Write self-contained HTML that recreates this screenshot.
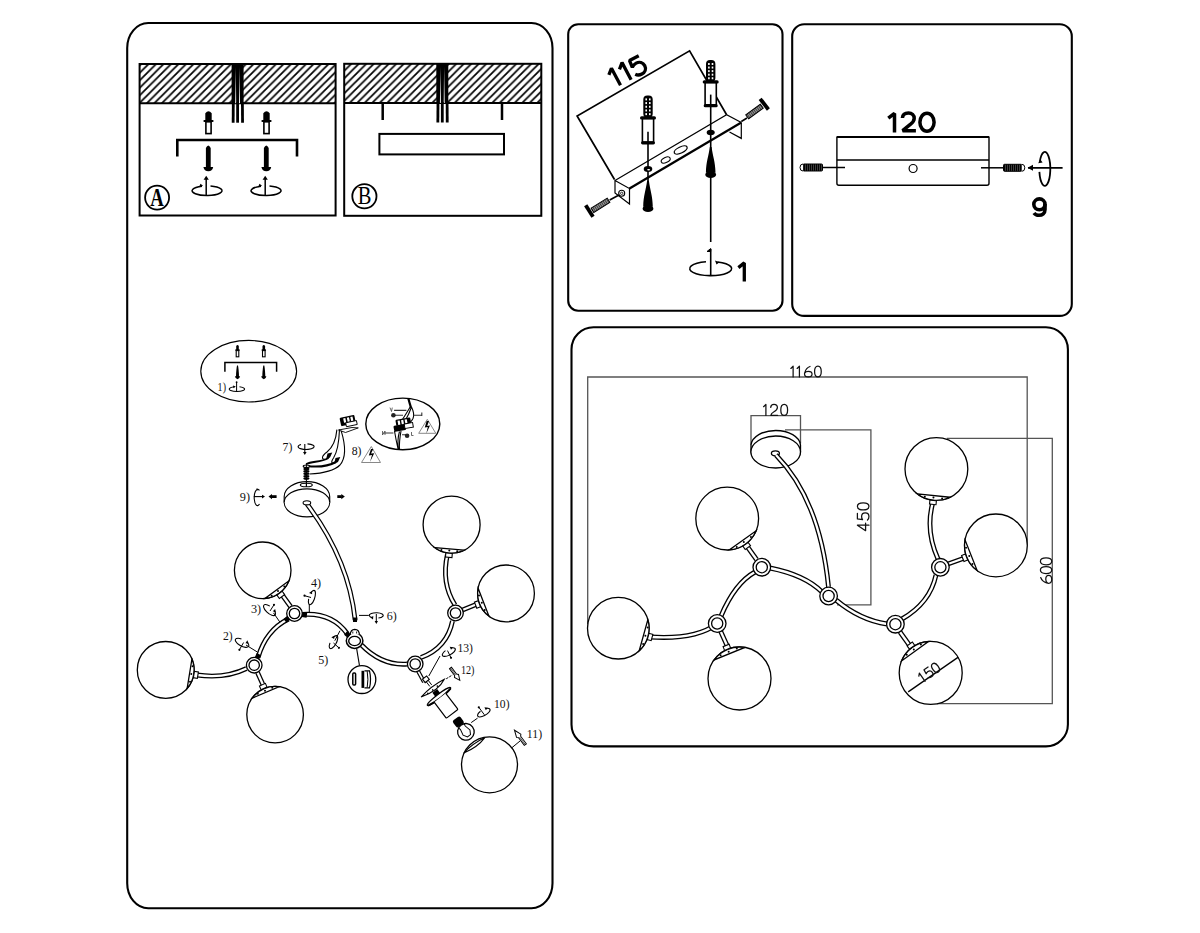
<!DOCTYPE html>
<html><head><meta charset="utf-8">
<style>html,body{margin:0;padding:0;background:#fff;}body{width:1200px;height:933px;overflow:hidden;}svg{display:block;}</style></head><body>
<svg width="1200" height="933" viewBox="0 0 1200 933">
<defs>
<pattern id="hatch" patternUnits="userSpaceOnUse" width="7.5" height="7.5" x="2.6" y="0">
<path d="M-1.5,1.5 L1.5,-1.5 M0,7.5 L7.5,0 M6,9 L9,6" stroke="#000" stroke-width="1.75"/>
</pattern>
<pattern id="thread2" patternUnits="userSpaceOnUse" width="2" height="2">
<rect width="2" height="2" fill="#999"/><rect width="0.9" height="2" fill="#333"/>
</pattern>
<pattern id="thread" patternUnits="userSpaceOnUse" width="2" height="2">
<rect width="2" height="2" fill="#000"/><rect x="1.2" width="0.6" height="2" fill="#666"/>
</pattern>
</defs>
<rect width="1200" height="933" fill="#fff"/>
<g fill="none" stroke="#000" stroke-width="2.1">
<rect x="127.2" y="23" width="425.3" height="885.2" rx="21" ry="25"/>
<rect x="568.2" y="24.2" width="214.3" height="286.5" rx="10" ry="10"/>
<rect x="792.2" y="24.3" width="279.6" height="291.6" rx="12" ry="12"/>
<rect x="571.5" y="327.2" width="496.4" height="419.2" rx="22" ry="22"/>
</g>
<rect x="139.6" y="64" width="196" height="39.2" fill="url(#hatch)"/>
<rect x="139.6" y="64" width="196" height="151.5" fill="none" stroke="#000" stroke-width="2"/>
<line x1="139.6" y1="103.2" x2="335.6" y2="103.2" stroke="#000" stroke-width="2"/>
<rect x="231.6" y="64" width="12" height="39.2" fill="#000"/>
<path d="M235.8,67 L236.2,103.2 L235.2,103.2 Z M239.4,67 L239,103.2 L240,103.2 Z" fill="#fff"/>
<path d="M233.3,102.2 L233.15,122.7" stroke="#000" stroke-width="2.8"/>
<path d="M237.6,102.2 L237.6,122.7" stroke="#000" stroke-width="2.8"/>
<path d="M242.4,102.2 L242.55,122.7" stroke="#000" stroke-width="2.8"/>
<rect x="344.2" y="63.8" width="197.1" height="39.2" fill="url(#hatch)"/>
<rect x="344.2" y="63.8" width="197.1" height="152" fill="none" stroke="#000" stroke-width="2"/>
<line x1="344.2" y1="103" x2="541.3" y2="103" stroke="#000" stroke-width="2"/>
<rect x="436.3" y="63.8" width="12" height="39.2" fill="#000"/>
<path d="M440.5,66.8 L440.9,103 L439.9,103 Z M444.1,66.8 L443.7,103 L444.7,103 Z" fill="#fff"/>
<path d="M438,102 L437.85,122.5" stroke="#000" stroke-width="2.8"/>
<path d="M442.3,102 L442.3,122.5" stroke="#000" stroke-width="2.8"/>
<path d="M447.1,102 L447.25,122.5" stroke="#000" stroke-width="2.8"/>
<path d="M205.3,120.8 L205.3,113.3 Q208.5,109.3 211.7,113.3 L211.7,120.8 Z" fill="#000"/>
<rect x="203.4" y="120.1" width="10.2" height="2" rx="1" fill="#000"/>
<rect x="205.9" y="121.8" width="5.2" height="11.8" fill="#fff" stroke="#000" stroke-width="1.6"/>
<path d="M205.9,167.2 L205.9,147.9 Q208.3,142.9 210.7,147.9 L210.7,167.2 Z" fill="#000"/>
<path d="M203.4,166.9 L213.2,166.9 Q212.3,171.2 208.3,171.2 Q204.3,171.2 203.4,166.9 Z" fill="#000"/>
<path d="M263.3,120.8 L263.3,113.3 Q266.5,109.3 269.7,113.3 L269.7,120.8 Z" fill="#000"/>
<rect x="261.4" y="120.1" width="10.2" height="2" rx="1" fill="#000"/>
<rect x="263.9" y="121.8" width="5.2" height="11.8" fill="#fff" stroke="#000" stroke-width="1.6"/>
<path d="M263.9,167.2 L263.9,147.9 Q266.3,142.9 268.7,147.9 L268.7,167.2 Z" fill="#000"/>
<path d="M261.4,166.9 L271.2,166.9 Q270.3,171.2 266.3,171.2 Q262.3,171.2 261.4,166.9 Z" fill="#000"/>
<path d="M202,186.2 A15,4.8 0 1 0 210.5,186.05" fill="none" stroke="#000" stroke-width="1.5"/>
<path d="M199,187.2 L203,185.7 L200.5,183.8 Z" fill="#000"/>
<line x1="206.2" y1="195.6" x2="206.2" y2="178.7" stroke="#000" stroke-width="1.5"/>
<path d="M203.6,179.7 L206.2,175.7 L208.8,179.7 Z" fill="#000"/>
<path d="M261,186.2 A15,4.8 0 1 0 269.5,186.05" fill="none" stroke="#000" stroke-width="1.5"/>
<path d="M258,187.2 L262,185.7 L259.5,183.8 Z" fill="#000"/>
<line x1="265.2" y1="195.6" x2="265.2" y2="178.7" stroke="#000" stroke-width="1.5"/>
<path d="M262.6,179.7 L265.2,175.7 L267.8,179.7 Z" fill="#000"/>
<path d="M177.3,156.5 V140 H297 V156.5" fill="none" stroke="#000" stroke-width="2.6"/>
<path d="M382.7,103 V120 M502,103 V120" stroke="#000" stroke-width="2.5"/>
<rect x="379.4" y="133.9" width="124.6" height="20.5" fill="none" stroke="#000" stroke-width="2"/>
<circle cx="157.1" cy="197.6" r="12.0" fill="none" stroke="#000" stroke-width="1.8"/>
<text x="0" y="0" font-family="&quot;Liberation Serif&quot;, serif" font-size="26" font-weight="bold" text-anchor="middle" fill="#000" transform="translate(157.1,205.9) scale(0.72,1)">A</text>
<circle cx="364.4" cy="196.3" r="12.1" fill="none" stroke="#000" stroke-width="1.8"/>
<text x="0" y="0" font-family="&quot;Liberation Serif&quot;, serif" font-size="24.5" text-anchor="middle" fill="#000" transform="translate(364.6,204.4) scale(0.84,1)">B</text>
<g stroke="#000" fill="none">
<path d="M614.5,179.5 L577.1,116 L689.6,50.8 L726.6,114.8" stroke-width="1.7"/>
<path d="M615,180.5 L726.6,114.8 L741.3,122.5" stroke-width="1.2"/>
<path d="M629.5,188.5 L741.3,122.5" stroke-width="2.2"/>
<path d="M615,180.5 L629.5,188.5 L629.5,204 L615,193 Z" stroke-width="1.2"/>
<path d="M741.3,122.5 L741.3,138.4 L729.5,132" stroke-width="1.2"/>
<ellipse cx="665.7" cy="160" rx="4.8" ry="2.6" transform="rotate(-25 665.7 160)" stroke-width="1.1"/>
<ellipse cx="680.7" cy="150" rx="7" ry="3" transform="rotate(-25 680.7 150)" stroke-width="1.3"/>
</g>
<rect x="643.3" y="95.4" width="9.4" height="22.4" rx="4" fill="#000"/>
<rect x="645.4" y="98.4" width="1.6" height="2" fill="#fff"/><rect x="649" y="98.4" width="1.6" height="2" fill="#fff"/>
<rect x="645.4" y="102.08" width="1.6" height="2" fill="#fff"/><rect x="649" y="102.08" width="1.6" height="2" fill="#fff"/>
<rect x="645.4" y="105.76" width="1.6" height="2" fill="#fff"/><rect x="649" y="105.76" width="1.6" height="2" fill="#fff"/>
<rect x="645.4" y="109.44" width="1.6" height="2" fill="#fff"/><rect x="649" y="109.44" width="1.6" height="2" fill="#fff"/>
<rect x="645.4" y="113.12" width="1.6" height="2" fill="#fff"/><rect x="649" y="113.12" width="1.6" height="2" fill="#fff"/>
<rect x="640" y="116.3" width="16" height="3.2" rx="1.6" fill="#000"/>
<rect x="642.4" y="118.8" width="11.2" height="23.4" fill="#fff" stroke="#000" stroke-width="1.6"/>
<rect x="641" y="141.2" width="14" height="3.2" rx="1.6" fill="#000"/>
<line x1="648" y1="131.7" x2="648" y2="143.7" stroke="#000" stroke-width="1.6"/>
<line x1="648" y1="143.7" x2="648" y2="182" stroke="#000" stroke-width="1.6"/>
<ellipse cx="648" cy="169" rx="4.3" ry="3" fill="#000"/><ellipse cx="648.6" cy="169.8" rx="1.5" ry="0.8" fill="#fff"/>
<path d="M647.1,180.7 L648.9,180.7 C650,189.7 652.6,195.7 652.8,206.7 L643.2,206.7 C643.4,195.7 646,189.7 647.1,180.7 Z" fill="#000"/>
<ellipse cx="648" cy="208.7" rx="5.4" ry="3.4" fill="#000"/>
<rect x="706" y="60" width="9.4" height="21.8" rx="4" fill="#000"/>
<rect x="708.1" y="63" width="1.6" height="2" fill="#fff"/><rect x="711.7" y="63" width="1.6" height="2" fill="#fff"/>
<rect x="708.1" y="66.56" width="1.6" height="2" fill="#fff"/><rect x="711.7" y="66.56" width="1.6" height="2" fill="#fff"/>
<rect x="708.1" y="70.12" width="1.6" height="2" fill="#fff"/><rect x="711.7" y="70.12" width="1.6" height="2" fill="#fff"/>
<rect x="708.1" y="73.68" width="1.6" height="2" fill="#fff"/><rect x="711.7" y="73.68" width="1.6" height="2" fill="#fff"/>
<rect x="708.1" y="77.24" width="1.6" height="2" fill="#fff"/><rect x="711.7" y="77.24" width="1.6" height="2" fill="#fff"/>
<rect x="702.7" y="80.3" width="16" height="3.2" rx="1.6" fill="#000"/>
<rect x="705.1" y="82.8" width="11.2" height="22.3" fill="#fff" stroke="#000" stroke-width="1.6"/>
<rect x="703.7" y="104.1" width="14" height="3.2" rx="1.6" fill="#000"/>
<line x1="710.7" y1="94.6" x2="710.7" y2="106.6" stroke="#000" stroke-width="1.6"/>
<line x1="710.7" y1="106.6" x2="710.7" y2="242" stroke="#000" stroke-width="1.6"/>
<ellipse cx="710.7" cy="132.5" rx="4" ry="2.8" fill="#000"/>
<path d="M709.8,147 L711.6,147 C712.7,156 715.3,161.7 715.5,172.7 L705.9,172.7 C706.1,161.7 708.7,156 709.8,147 Z" fill="#000"/>
<ellipse cx="710.7" cy="174.7" rx="5.4" ry="3.4" fill="#000"/>
<line x1="741.3" y1="121.5" x2="747" y2="118" stroke="#000" stroke-width="1.6"/>
<g transform="translate(754.5,111.5) rotate(-36)"><rect x="-9" y="-2.5" width="18" height="5" fill="url(#thread2)" stroke="#000" stroke-width="1"/></g>
<line x1="760.2" y1="98.9" x2="768.4" y2="109.5" stroke="#000" stroke-width="3.8"/>
<line x1="609.7" y1="200" x2="619" y2="195" stroke="#000" stroke-width="1.6"/>
<g transform="translate(600.5,205.3) rotate(-32)"><rect x="-9.5" y="-2.5" width="19" height="5" fill="url(#thread2)" stroke="#000" stroke-width="1"/></g>
<line x1="585.7" y1="205.3" x2="593" y2="216.7" stroke="#000" stroke-width="3.8"/>
<circle cx="621.7" cy="193.3" r="3" fill="#fff" stroke="#000" stroke-width="1.1"/><circle cx="621.7" cy="193.3" r="1.2" fill="none" stroke="#000" stroke-width="0.8"/>
<path d="M706,261.8 A21,7 0 1 0 717.5,262" fill="none" stroke="#000" stroke-width="1.6"/>
<path d="M715,260.5 L719.5,262.3 L716.5,264.5 Z" fill="#000"/>
<line x1="710.7" y1="249" x2="710.7" y2="275.5" stroke="#000" stroke-width="1.6"/>
<path d="M710.7,248.5 L707,251.5 L710.7,251.5 Z" fill="#000" stroke="#000" stroke-width="1"/>
<g transform="translate(620.5,85.3) rotate(-28)" fill="none" stroke="#000" stroke-width="3.3" stroke-linejoin="bevel"><path d="M-5.4,-14.6 L0,-19.3 V0"/><path d="M6.6,-14.6 L12,-19.3 V0"/><path d="M30,-17.6 H19.6 L18.8,-10.2 C20.5,-11.6 22.5,-12.2 24.2,-12.2 C28,-12.2 30.6,-9.5 30.6,-6 C30.6,-2.2 27.8,0.1 24.2,0.1 C21.8,0.1 19.6,-0.9 18.2,-2.8"/></g>
<path d="M738.4,267.6 L744.3,262.9 V281.6" fill="none" stroke="#000" stroke-width="3.3" stroke-linejoin="bevel"/>
<g fill="none" stroke="#000" stroke-width="3.5" stroke-linejoin="bevel"><path d="M888.3,118.2 L894.5,113.4 V132.4"/><path d="M902.4,118 C902.6,114.6 905.2,112.9 908.5,112.9 C912,112.9 914.2,115.2 914.2,118.2 C914.2,120.6 912.8,122.4 910.6,124.2 L902.6,130.7 H915.9"/><ellipse cx="927" cy="122.2" rx="7.1" ry="9"/></g>
<g stroke="#000" fill="none">
<path d="M836.9,137.1 H989" stroke-width="2"/>
<path d="M836.9,136.5 V183.3 Q836.9,185.3 838.9,185.3 H987 Q989,185.3 989,183.3 V136.5" stroke-width="1.4"/>
<path d="M836.9,160 H989" stroke-width="1.4"/>
<circle cx="913.1" cy="168.5" r="4" stroke-width="1.2"/>
<path d="M822.5,167.5 H845" stroke-width="1.5"/>
<path d="M981,167.8 H1003.5" stroke-width="1.5"/>
<path d="M1028,167.8 H1062.6" stroke-width="1.8"/>
</g>
<rect x="803" y="164" width="19.5" height="7" rx="1" fill="url(#thread)" stroke="#000" stroke-width="1"/>
<path d="M803,164 A3,3.5 0 0 0 803,171" fill="#fff" stroke="#000" stroke-width="1"/>
<rect x="1003.5" y="164.3" width="18.3" height="7" rx="1" fill="url(#thread)" stroke="#000" stroke-width="1"/>
<path d="M1021.8,164.3 A3,3.5 0 0 1 1021.8,171.3" fill="#fff" stroke="#000" stroke-width="1"/>
<path d="M1027.6,167.8 L1033,164.8 L1033,170.8 Z" fill="#000"/>
<path d="M1039.8,161.8 A5.5,17 0 1 1 1039.4,171.9" fill="none" stroke="#000" stroke-width="1.8"/>
<path d="M1038.2,163.2 L1040.2,159.2 L1042.6,162.6 Z" fill="#000"/>
<g fill="none" stroke="#000" stroke-width="3.6"><ellipse cx="1039.4" cy="204.3" rx="5.6" ry="5.4"/><path d="M1045,204 V209.5 C1045,213.5 1042.3,215.3 1039,215.3 C1036.8,215.3 1035,214.5 1034,213"/></g>
<g stroke="#555" fill="none" stroke-width="1.3">
<path d="M587.7,624 V377 H1027.2 V545"/>
<path d="M751,445 V415.6 H800.5 V443.6"/>
<path d="M785,429.8 H870.9 V604.8 H837"/>
<path d="M946.8,438.3 H1052.3 V703.6 H937"/>
</g>
<g transform="translate(0,366.2) rotate(0) scale(0.98)" fill="none" stroke="#111" stroke-width="1.27" stroke-linecap="round" stroke-linejoin="round"><path d="M-2.3,2.3 L0,0 V11" transform="translate(809.31,0)"/><path d="M-2.3,2.3 L0,0 V11" transform="translate(815.73,0)"/><path d="M5.6,0.3 Q1.6,1.8 0.5,5.9 Q0,7 0,8 Q0,11 3.85,11 Q7.7,11 7.7,8 Q7.7,5.2 3.85,5.2 Q1.2,5.2 0.3,7" transform="translate(820.93,0)"/><path d="M3.4,0 Q6.8,0 6.8,5.5 Q6.8,11 3.4,11 Q0,11 0,5.5 Q0,0 3.4,0 Z" transform="translate(831.21,0)"/></g>
<g transform="translate(0,404.4) rotate(0) scale(1)" fill="none" stroke="#111" stroke-width="1.25" stroke-linecap="round" stroke-linejoin="round"><path d="M-2.3,2.3 L0,0 V11" transform="translate(765.9,0)"/><path d="M0.3,3 Q0.5,0 3.6,0 Q7,0 7,3.2 Q7,5.6 3.6,7.4 Q0.6,9 0.4,11 H7.2" transform="translate(770.4,0)"/><path d="M3.4,0 Q6.8,0 6.8,5.5 Q6.8,11 3.4,11 Q0,11 0,5.5 Q0,0 3.4,0 Z" transform="translate(780.8,0)"/></g>
<g transform="translate(857.4,530.7) rotate(-90) scale(1.05)" fill="none" stroke="#111" stroke-width="1.2" stroke-linecap="round" stroke-linejoin="round"><path d="M5.2,11 V0 L0,7.8 H7.2" transform="translate(0,0)"/><path d="M6.6,0 H1.2 L0.6,4.9 Q1.8,4 3.6,4 Q7.1,4 7.1,7.5 Q7.1,11 3.6,11 Q1.3,11 0.2,9.6" transform="translate(9.95,0)"/><path d="M3.4,0 Q6.8,0 6.8,5.5 Q6.8,11 3.4,11 Q0,11 0,5.5 Q0,0 3.4,0 Z" transform="translate(19.8,0)"/></g>
<g transform="translate(1040.4,583.3) rotate(-90) scale(1.03)" fill="none" stroke="#111" stroke-width="1.22" stroke-linecap="round" stroke-linejoin="round"><path d="M5.6,0.3 Q1.6,1.8 0.5,5.9 Q0,7 0,8 Q0,11 3.85,11 Q7.7,11 7.7,8 Q7.7,5.2 3.85,5.2 Q1.2,5.2 0.3,7" transform="translate(0,0)"/><path d="M3.4,0 Q6.8,0 6.8,5.5 Q6.8,11 3.4,11 Q0,11 0,5.5 Q0,0 3.4,0 Z" transform="translate(9.44,0)"/><path d="M3.4,0 Q6.8,0 6.8,5.5 Q6.8,11 3.4,11 Q0,11 0,5.5 Q0,0 3.4,0 Z" transform="translate(17.91,0)"/></g>
<g stroke="#000" stroke-width="1.3" fill="#fff">
<path d="M751,445 A24.8,15.5 0 0 1 800.5,445 V452 A24.8,16 0 0 1 751,452 Z"/>
<ellipse cx="775.7" cy="452" rx="24.8" ry="16"/>
<ellipse cx="775.4" cy="453.3" rx="4" ry="2.5"/>
</g>
<path d="M776,455 Q820,500 828.5,587" fill="none" stroke="#000" stroke-width="4.9" stroke-linecap="butt"/>
<path d="M776,455 Q820,500 828.5,587" fill="none" stroke="#fff" stroke-width="2.3" stroke-linecap="butt"/>
<path d="M717,624 Q695,640 650,637" fill="none" stroke="#000" stroke-width="4.9" stroke-linecap="butt"/>
<path d="M717,624 Q695,640 650,637" fill="none" stroke="#fff" stroke-width="2.3" stroke-linecap="butt"/>
<path d="M721,616 Q735,583 755,572" fill="none" stroke="#000" stroke-width="4.9" stroke-linecap="butt"/>
<path d="M721,616 Q735,583 755,572" fill="none" stroke="#fff" stroke-width="2.3" stroke-linecap="butt"/>
<path d="M770,568 Q805,575 822,592" fill="none" stroke="#000" stroke-width="4.9" stroke-linecap="butt"/>
<path d="M770,568 Q805,575 822,592" fill="none" stroke="#fff" stroke-width="2.3" stroke-linecap="butt"/>
<path d="M836,600 Q860,620 887,624" fill="none" stroke="#000" stroke-width="4.9" stroke-linecap="butt"/>
<path d="M836,600 Q860,620 887,624" fill="none" stroke="#fff" stroke-width="2.3" stroke-linecap="butt"/>
<path d="M902,619 Q930,603 936,575" fill="none" stroke="#000" stroke-width="4.9" stroke-linecap="butt"/>
<path d="M902,619 Q930,603 936,575" fill="none" stroke="#fff" stroke-width="2.3" stroke-linecap="butt"/>
<path d="M946.5,564.5 L966,557.5" fill="none" stroke="#000" stroke-width="4.9" stroke-linecap="butt"/>
<path d="M946.5,564.5 L966,557.5" fill="none" stroke="#fff" stroke-width="2.3" stroke-linecap="butt"/>
<path d="M938,559 Q925,530 933,502" fill="none" stroke="#000" stroke-width="4.9" stroke-linecap="butt"/>
<path d="M938,559 Q925,530 933,502" fill="none" stroke="#fff" stroke-width="2.3" stroke-linecap="butt"/>
<path d="M756.5,559.5 L746.5,545.5" fill="none" stroke="#000" stroke-width="4.9" stroke-linecap="butt"/>
<path d="M756.5,559.5 L746.5,545.5" fill="none" stroke="#fff" stroke-width="2.3" stroke-linecap="butt"/>
<path d="M720.5,631 L727.5,646.5" fill="none" stroke="#000" stroke-width="4.9" stroke-linecap="butt"/>
<path d="M720.5,631 L727.5,646.5" fill="none" stroke="#fff" stroke-width="2.3" stroke-linecap="butt"/>
<path d="M900,632 L910,646" fill="none" stroke="#000" stroke-width="4.9" stroke-linecap="butt"/>
<path d="M900,632 L910,646" fill="none" stroke="#fff" stroke-width="2.3" stroke-linecap="butt"/>
<circle cx="727.2" cy="518.6" r="31.4" fill="#fff" stroke="#000" stroke-width="1.3"/>
<path d="M729.2,549.94 A31.4,31.4 0 0 0 756.15,530.75 Z" fill="#fff" stroke="#000" stroke-width="1.3"/>
<circle cx="750.92" cy="536.91" r="1.0" fill="#000"/>
<circle cx="743.83" cy="541.95" r="1.0" fill="#000"/>
<circle cx="736.73" cy="547" r="1.0" fill="#000"/>
<rect x="-2" y="-3.25" width="4" height="6.5" fill="#fff" stroke="#000" stroke-width="1.1" transform="translate(746.69,545.97) rotate(54.55)"/>
<circle cx="618.3" cy="628.2" r="30.8" fill="#fff" stroke="#000" stroke-width="1.3"/>
<path d="M639.19,650.84 A30.8,30.8 0 0 0 647.87,619.57 Z" fill="#fff" stroke="#000" stroke-width="1.3"/>
<circle cx="647.68" cy="627.49" r="1.0" fill="#000"/>
<circle cx="645.4" cy="635.72" r="1.0" fill="#000"/>
<circle cx="643.11" cy="643.95" r="1.0" fill="#000"/>
<rect x="-2" y="-3.25" width="4" height="6.5" fill="#fff" stroke="#000" stroke-width="1.1" transform="translate(650.1,637.03) rotate(15.51)"/>
<circle cx="739.5" cy="678.5" r="31.5" fill="#fff" stroke="#000" stroke-width="1.3"/>
<path d="M744.82,647.45 A31.5,31.5 0 0 0 714.06,659.92 Z" fill="#fff" stroke="#000" stroke-width="1.3"/>
<circle cx="720.6" cy="655.13" r="1.0" fill="#000"/>
<circle cx="728.69" cy="651.85" r="1.0" fill="#000"/>
<circle cx="736.79" cy="648.57" r="1.0" fill="#000"/>
<rect x="-2" y="-3.25" width="4" height="6.5" fill="#fff" stroke="#000" stroke-width="1.1" transform="translate(726.84,647.27) rotate(-112.07)"/>
<circle cx="936.4" cy="469" r="31.4" fill="#fff" stroke="#000" stroke-width="1.3"/>
<path d="M917.21,493.85 A31.4,31.4 0 0 0 950.12,497.24 Z" fill="#fff" stroke="#000" stroke-width="1.3"/>
<circle cx="942.12" cy="498.41" r="1.0" fill="#000"/>
<circle cx="933.46" cy="497.52" r="1.0" fill="#000"/>
<circle cx="924.8" cy="496.63" r="1.0" fill="#000"/>
<rect x="-2" y="-3.25" width="4" height="6.5" fill="#fff" stroke="#000" stroke-width="1.1" transform="translate(932.96,502.42) rotate(95.88)"/>
<circle cx="995.9" cy="545.4" r="31.4" fill="#fff" stroke="#000" stroke-width="1.3"/>
<path d="M965,539.81 A31.4,31.4 0 0 0 977.14,570.58 Z" fill="#fff" stroke="#000" stroke-width="1.3"/>
<circle cx="972.43" cy="564.02" r="1.0" fill="#000"/>
<circle cx="969.23" cy="555.92" r="1.0" fill="#000"/>
<circle cx="966.04" cy="547.82" r="1.0" fill="#000"/>
<rect x="-2" y="-3.25" width="4" height="6.5" fill="#fff" stroke="#000" stroke-width="1.1" transform="translate(964.65,557.73) rotate(158.47)"/>
<circle cx="930.7" cy="672.9" r="31.5" fill="#fff" stroke="#000" stroke-width="1.3"/>
<path d="M928.42,641.48 A31.5,31.5 0 0 0 901.55,660.96 Z" fill="#fff" stroke="#000" stroke-width="1.3"/>
<circle cx="906.75" cy="654.74" r="1.0" fill="#000"/>
<circle cx="913.82" cy="649.61" r="1.0" fill="#000"/>
<circle cx="920.89" cy="644.49" r="1.0" fill="#000"/>
<rect x="-2" y="-3.25" width="4" height="6.5" fill="#fff" stroke="#000" stroke-width="1.1" transform="translate(910.92,645.61) rotate(-125.94)"/>
<circle cx="761.8" cy="567.2" r="8.8" fill="#fff" stroke="#000" stroke-width="1.3"/>
<circle cx="761.8" cy="567.2" r="5.6" fill="#fff" stroke="#000" stroke-width="1.3"/>
<circle cx="717.2" cy="623.5" r="8.8" fill="#fff" stroke="#000" stroke-width="1.3"/>
<circle cx="717.2" cy="623.5" r="5.6" fill="#fff" stroke="#000" stroke-width="1.3"/>
<circle cx="828.6" cy="596" r="8.8" fill="#fff" stroke="#000" stroke-width="1.3"/>
<circle cx="828.6" cy="596" r="5.6" fill="#fff" stroke="#000" stroke-width="1.3"/>
<circle cx="895.4" cy="624.2" r="8.8" fill="#fff" stroke="#000" stroke-width="1.3"/>
<circle cx="895.4" cy="624.2" r="5.6" fill="#fff" stroke="#000" stroke-width="1.3"/>
<circle cx="940.4" cy="567.3" r="8.8" fill="#fff" stroke="#000" stroke-width="1.3"/>
<circle cx="940.4" cy="567.3" r="5.6" fill="#fff" stroke="#000" stroke-width="1.3"/>
<line x1="908.2" y1="691.9" x2="958.3" y2="657.1" stroke="#000" stroke-width="1.3"/>
<g transform="translate(919.36,673.11) rotate(-35) scale(0.91)" fill="none" stroke="#111" stroke-width="1.38" stroke-linecap="round" stroke-linejoin="round"><path d="M-2.3,2.3 L0,0 V11" transform="translate(0,0)"/><path d="M6.6,0 H1.2 L0.6,4.9 Q1.8,4 3.6,4 Q7.1,4 7.1,7.5 Q7.1,11 3.6,11 Q1.3,11 0.2,9.6" transform="translate(5.06,0)"/><path d="M3.4,0 Q6.8,0 6.8,5.5 Q6.8,11 3.4,11 Q0,11 0,5.5 Q0,0 3.4,0 Z" transform="translate(14.41,0)"/></g>
<ellipse cx="248.7" cy="371.2" rx="47.9" ry="30.8" fill="none" stroke="#000" stroke-width="1.15"/>
<path d="M224.9,371.8 V362.5 H276.6 V371.8" fill="none" stroke="#000" stroke-width="1.5"/>
<path d="M236.2,350 V346 Q237.5,343.8 238.8,346 V350 Z" fill="#000"/>
<rect x="235.2" y="349.3" width="4.6" height="1.6" rx="0.8" fill="#000"/>
<rect x="236.2" y="350.6" width="2.6" height="6.2" fill="#fff" stroke="#000" stroke-width="1.1"/>
<path d="M237,365.5 L238,365.5 C238.5,368 239,373 239,377 L236,377 C236,373 236.5,368 237,365.5 Z" fill="#000"/>
<path d="M234.9,376.3 H240.1 Q239.5,379.2 237.5,379.2 Q235.5,379.2 234.9,376.3 Z" fill="#000"/>
<path d="M262.5,350 V346 Q263.8,343.8 265.1,346 V350 Z" fill="#000"/>
<rect x="261.5" y="349.3" width="4.6" height="1.6" rx="0.8" fill="#000"/>
<rect x="262.5" y="350.6" width="2.6" height="6.2" fill="#fff" stroke="#000" stroke-width="1.1"/>
<path d="M263.3,365.5 L264.3,365.5 C264.8,368 265.3,373 265.3,377 L262.3,377 C262.3,373 262.8,368 263.3,365.5 Z" fill="#000"/>
<path d="M261.2,376.3 H266.4 Q265.8,379.2 263.8,379.2 Q261.8,379.2 261.2,376.3 Z" fill="#000"/>
<text x="217.6" y="390.8" font-family="&quot;Liberation Serif&quot;, serif" font-size="12.5" fill="#111" textLength="8.4" lengthAdjust="spacingAndGlyphs">1)</text>
<path d="M234.3,386.7 A7.7,2.5 0 1 0 239.5,386.7" fill="none" stroke="#000" stroke-width="1.05"/>
<path d="M233,385.5 L235.8,386.6 L233.5,388.3 Z" fill="#000"/>
<line x1="236.6" y1="382.5" x2="236.6" y2="391.5" stroke="#000" stroke-width="1"/><circle cx="236.6" cy="382.2" r="0.9" fill="#000"/>
<ellipse cx="402.8" cy="423.9" rx="37" ry="25.8" fill="none" stroke="#000" stroke-width="1.4"/>
<path d="M408.3,398.3 Q409.5,403 411,407.7" fill="none" stroke="#000" stroke-width="2.2"/>
<path d="M410.5,406.5 Q406,414 401.8,420.5 M411.3,407.5 Q409,414 405.3,420.5 M411.5,407 Q415,414 413,418.5 Q411.5,421.5 409.5,423" fill="none" stroke="#000" stroke-width="1.1"/>
<path d="M394.1,410.4 H406.4 M394,415.2 H403 M414,415.2 H421.5 M421.8,412.5 V416" stroke="#333" stroke-width="1.1"/>
<circle cx="393.4" cy="415.2" r="2.3" fill="#222"/>
<path d="M390,407.6 L391.5,411.5 L392.3,407.6" fill="none" stroke="#444" stroke-width="0.8"/>
<path d="M383.5,433 H393.4 M402,434.8 H407" stroke="#333" stroke-width="1.1"/>
<path d="M382.5,431 V435 L385,431 V435" fill="none" stroke="#444" stroke-width="0.8"/>
<circle cx="407.1" cy="435.7" r="2.3" fill="#222"/>
<path d="M411.5,432 V435.5 H413.5" fill="none" stroke="#444" stroke-width="0.8"/>
<g transform="translate(392.4,420.5) rotate(-10)"><rect x="3" y="0" width="15" height="6" rx="1" fill="#000"/><rect x="5" y="1.2" width="2.2" height="4.5" fill="#fff"/><rect x="8.6" y="1.2" width="2.2" height="4.5" fill="#fff"/><rect x="12.2" y="1.2" width="2.2" height="4.5" fill="#fff"/><rect x="0" y="5.5" width="12" height="6" rx="1" fill="#000"/><rect x="11" y="5.5" width="8.5" height="4.6" fill="#fff" stroke="#000" stroke-width="1"/></g>
<path d="M394.5,431 Q396,440 398.2,449.7 M399.5,431.5 Q397,440 398.5,449.7 M401,431 Q399,442 399.5,449.7" fill="none" stroke="#000" stroke-width="1.1"/>
<path d="M418.7,433.3 L427.3,419.3 L435.8,433.3 Z" fill="none" stroke="#888" stroke-width="1"/>
<path d="M426.6,421 L424.8,427.5 L427.8,427 L426.3,433.5 L430,425.6 L427.2,426 L429,421 Z" fill="#000"/>
<g transform="translate(339.5,418) rotate(-12)"><rect x="0" y="0" width="15" height="8.5" rx="1" fill="#000"/><rect x="3.5" y="1.2" width="2.2" height="4.5" fill="#fff"/><rect x="7.2" y="1.2" width="2.2" height="4.5" fill="#fff"/><rect x="10.8" y="1.2" width="2.2" height="4.5" fill="#fff"/><rect x="5" y="6" width="11" height="4" fill="#fff" stroke="#000" stroke-width="0.9"/></g>
<path d="M338.5,430 L352,427.5 L358.3,427.9 L345.5,432.5 Z" fill="#fff" stroke="#000" stroke-width="0.9"/>
<path d="M336.9,429.6 C336,440 333,447 327,452 C321.5,456 321,459.5 325.5,459.5" fill="none" stroke="#000" stroke-width="1.1"/>
<path d="M339.5,429.6 C339,442 337.5,452 333.5,458 C331,461.5 331,463.5 334,463" fill="none" stroke="#000" stroke-width="1.1"/>
<path d="M341.2,430.9 C345.5,445 346,458 340,465 C334,471 320,473.5 309.5,474" fill="none" stroke="#000" stroke-width="1.1"/>
<path d="M306.5,464 C312,460.5 320,463 328.5,458 M306.8,466 C315,467 326,467.5 336,462" fill="none" stroke="#000" stroke-width="2"/>
<path d="M326,459.5 L327.5,453.5 L332.3,452.5 L330,457.5 Z M334,464 L335.5,458 L340.3,457 L338,462 Z" fill="#000"/>
<ellipse cx="306.4" cy="466.3" rx="3.2" ry="1.3" fill="#fff" stroke="#000" stroke-width="1.1"/>
<ellipse cx="306.4" cy="469" rx="3.1" ry="1.3" fill="#000"/>
<ellipse cx="306.4" cy="471.4" rx="3.1" ry="1.3" fill="#000"/>
<ellipse cx="306.4" cy="473.8" rx="3.1" ry="1.3" fill="#000"/>
<ellipse cx="306.4" cy="476.2" rx="3.1" ry="1.3" fill="#000"/>
<ellipse cx="306.4" cy="478.6" rx="3.1" ry="1.3" fill="#000"/>
<line x1="306.4" y1="463" x2="306.4" y2="487" stroke="#000" stroke-width="1"/>
<path d="M361.5,462.5 L371.3,446.5 L380.5,462.5 Z" fill="none" stroke="#888" stroke-width="1"/>
<path d="M371,449 L368.8,455.5 L372,455 L370,462 L374.2,453.2 L371,453.6 L373.3,449 Z" fill="#000"/>
<text x="351.7" y="454.5" font-family="&quot;Liberation Serif&quot;, serif" font-size="12.5" fill="#111" textLength="9.8" lengthAdjust="spacingAndGlyphs">8)</text>
<text x="282.5" y="450.9" font-family="&quot;Liberation Serif&quot;, serif" font-size="12.5" fill="#111" textLength="9.8" lengthAdjust="spacingAndGlyphs">7)</text>
<path d="M301,444.5 A8,2.8 0 1 0 307.5,443.9" fill="none" stroke="#000" stroke-width="1.1"/>
<line x1="304.8" y1="444" x2="304.8" y2="453" stroke="#000" stroke-width="1.1"/>
<path d="M303,452 L304.8,455 L306.6,452 Z" fill="#000"/>
<g stroke="#000" stroke-width="1.15" fill="#fff">
<path d="M284.2,496.5 A22.75,14.8 0 0 1 329.7,496.5 V502.6 A22.75,14.3 0 0 1 284.2,502.6 Z"/>
<path d="M284.2,502.6 A22.75,13.8 0 0 1 329.7,502.6"/>
</g>
<ellipse cx="306.3" cy="485" rx="6" ry="1.8" fill="none" stroke="#000" stroke-width="1.1"/>
<line x1="306.4" y1="482" x2="306.4" y2="487" stroke="#000" stroke-width="1.2"/>
<path d="M271.5,496.6 H276.6" stroke="#000" stroke-width="2.8"/><path d="M268.5,496.6 L272,493.9 L272,499.3 Z" fill="#000"/>
<path d="M337.3,496.6 H341.8" stroke="#000" stroke-width="2.8"/><path d="M344.8,496.6 L341.3,493.9 L341.3,499.3 Z" fill="#000"/>
<text x="239.8" y="501.3" font-family="&quot;Liberation Serif&quot;, serif" font-size="12.5" fill="#111" textLength="10.2" lengthAdjust="spacingAndGlyphs">9)</text>
<path d="M258.5,490 A3.3,8 0 1 0 259.5,504" fill="none" stroke="#000" stroke-width="1.1"/>
<path d="M256.3,489.2 Q258,488.5 259.5,490.3" fill="none" stroke="#000" stroke-width="1.1"/>
<line x1="253.8" y1="496.6" x2="262.5" y2="496.6" stroke="#000" stroke-width="1.1"/>
<path d="M262,494.7 L265,496.6 L262,498.5 Z" fill="#000"/>
<path d="M307,504 Q349,560 355.1,620" fill="none" stroke="#000" stroke-width="4.8" stroke-linecap="butt"/>
<path d="M307,504 Q349,560 355.1,620" fill="none" stroke="#fff" stroke-width="2.4" stroke-linecap="butt"/>
<ellipse cx="306.9" cy="502.8" rx="3.8" ry="2.1" fill="#fff" stroke="#000" stroke-width="1.1"/>
<rect x="353" y="618" width="4" height="4" fill="#000"/>
<path d="M197,675 Q225,679 246.5,668.5" fill="none" stroke="#000" stroke-width="4.9" stroke-linecap="butt"/>
<path d="M197,675 Q225,679 246.5,668.5" fill="none" stroke="#fff" stroke-width="2.3" stroke-linecap="butt"/>
<path d="M258,657.5 Q266,630 288.5,619" fill="none" stroke="#000" stroke-width="4.9" stroke-linecap="butt"/>
<path d="M258,657.5 Q266,630 288.5,619" fill="none" stroke="#fff" stroke-width="2.3" stroke-linecap="butt"/>
<path d="M257.5,672.5 L263.8,686.5" fill="none" stroke="#000" stroke-width="4.9" stroke-linecap="butt"/>
<path d="M257.5,672.5 L263.8,686.5" fill="none" stroke="#fff" stroke-width="2.3" stroke-linecap="butt"/>
<path d="M290.5,606.5 L281.5,594" fill="none" stroke="#000" stroke-width="4.9" stroke-linecap="butt"/>
<path d="M290.5,606.5 L281.5,594" fill="none" stroke="#fff" stroke-width="2.3" stroke-linecap="butt"/>
<path d="M302,614.5 Q332,612 347.5,634" fill="none" stroke="#000" stroke-width="4.9" stroke-linecap="butt"/>
<path d="M302,614.5 Q332,612 347.5,634" fill="none" stroke="#fff" stroke-width="2.3" stroke-linecap="butt"/>
<path d="M361.5,645 Q382,666 407.5,664" fill="none" stroke="#000" stroke-width="4.9" stroke-linecap="butt"/>
<path d="M361.5,645 Q382,666 407.5,664" fill="none" stroke="#fff" stroke-width="2.3" stroke-linecap="butt"/>
<path d="M421,657.5 Q447,648 452.5,621" fill="none" stroke="#000" stroke-width="4.9" stroke-linecap="butt"/>
<path d="M421,657.5 Q447,648 452.5,621" fill="none" stroke="#fff" stroke-width="2.3" stroke-linecap="butt"/>
<path d="M462.5,610 L478.5,603.5" fill="none" stroke="#000" stroke-width="4.9" stroke-linecap="butt"/>
<path d="M462.5,610 L478.5,603.5" fill="none" stroke="#fff" stroke-width="2.3" stroke-linecap="butt"/>
<path d="M455,605 Q441,583 447.5,554" fill="none" stroke="#000" stroke-width="4.9" stroke-linecap="butt"/>
<path d="M455,605 Q441,583 447.5,554" fill="none" stroke="#fff" stroke-width="2.3" stroke-linecap="butt"/>
<path d="M418,671 L424,682" fill="none" stroke="#000" stroke-width="4" stroke-linecap="butt"/>
<path d="M418,671 L424,682" fill="none" stroke="#fff" stroke-width="1.6" stroke-linecap="butt"/>
<circle cx="165.7" cy="669.9" r="28.4" fill="#fff" stroke="#000" stroke-width="1.3"/>
<path d="M187.12,688.55 A28.4,28.4 0 0 0 191.93,659.02 Z" fill="#fff" stroke="#000" stroke-width="1.3"/>
<circle cx="192.56" cy="666.3" r="1.0" fill="#000"/>
<circle cx="191.29" cy="674.07" r="1.0" fill="#000"/>
<circle cx="190.03" cy="681.84" r="1.0" fill="#000"/>
<rect x="-2" y="-3.25" width="4" height="6.5" fill="#fff" stroke="#000" stroke-width="1.1" transform="translate(195.9,674.82) rotate(9.25)"/>
<circle cx="262.7" cy="570.3" r="28.3" fill="#fff" stroke="#000" stroke-width="1.3"/>
<path d="M264.95,598.51 A28.3,28.3 0 0 0 288.97,580.83 Z" fill="#fff" stroke="#000" stroke-width="1.3"/>
<circle cx="284.34" cy="586.46" r="1.0" fill="#000"/>
<circle cx="278.02" cy="591.11" r="1.0" fill="#000"/>
<circle cx="271.7" cy="595.76" r="1.0" fill="#000"/>
<rect x="-2" y="-3.25" width="4" height="6.5" fill="#fff" stroke="#000" stroke-width="1.1" transform="translate(280.78,594.86) rotate(53.64)"/>
<circle cx="275.1" cy="714.6" r="28.3" fill="#fff" stroke="#000" stroke-width="1.3"/>
<path d="M279.46,686.64 A28.3,28.3 0 0 0 252,698.25 Z" fill="#fff" stroke="#000" stroke-width="1.3"/>
<circle cx="257.81" cy="693.86" r="1.0" fill="#000"/>
<circle cx="265.03" cy="690.8" r="1.0" fill="#000"/>
<circle cx="272.26" cy="687.75" r="1.0" fill="#000"/>
<rect x="-2" y="-3.25" width="4" height="6.5" fill="#fff" stroke="#000" stroke-width="1.1" transform="translate(263.22,686.51) rotate(-112.93)"/>
<circle cx="451.6" cy="524.7" r="28.5" fill="#fff" stroke="#000" stroke-width="1.3"/>
<path d="M434.5,547.5 A28.5,28.5 0 0 0 464.41,550.16 Z" fill="#fff" stroke="#000" stroke-width="1.3"/>
<circle cx="457.17" cy="551.32" r="1.0" fill="#000"/>
<circle cx="449.3" cy="550.62" r="1.0" fill="#000"/>
<circle cx="441.43" cy="549.92" r="1.0" fill="#000"/>
<rect x="-2" y="-3.25" width="4" height="6.5" fill="#fff" stroke="#000" stroke-width="1.1" transform="translate(448.89,555.28) rotate(95.07)"/>
<circle cx="506" cy="593.4" r="28.4" fill="#fff" stroke="#000" stroke-width="1.3"/>
<path d="M478.08,588.19 A28.4,28.4 0 0 0 488.91,616.08 Z" fill="#fff" stroke="#000" stroke-width="1.3"/>
<circle cx="484.68" cy="610.12" r="1.0" fill="#000"/>
<circle cx="481.83" cy="602.78" r="1.0" fill="#000"/>
<circle cx="478.98" cy="595.44" r="1.0" fill="#000"/>
<rect x="-2" y="-3.25" width="4" height="6.5" fill="#fff" stroke="#000" stroke-width="1.1" transform="translate(477.47,604.47) rotate(158.79)"/>
<circle cx="254.2" cy="665.2" r="7.8" fill="#fff" stroke="#000" stroke-width="1.3"/>
<circle cx="254.2" cy="665.2" r="5.2" fill="#fff" stroke="#000" stroke-width="1.3"/>
<circle cx="294.5" cy="613.5" r="7.8" fill="#fff" stroke="#000" stroke-width="1.3"/>
<circle cx="294.5" cy="613.5" r="5.2" fill="#fff" stroke="#000" stroke-width="1.3"/>
<circle cx="415.2" cy="664" r="7.8" fill="#fff" stroke="#000" stroke-width="1.3"/>
<circle cx="415.2" cy="664" r="5.2" fill="#fff" stroke="#000" stroke-width="1.3"/>
<circle cx="455.5" cy="613" r="7.8" fill="#fff" stroke="#000" stroke-width="1.3"/>
<circle cx="455.5" cy="613" r="5.2" fill="#fff" stroke="#000" stroke-width="1.3"/>
<ellipse cx="354.6" cy="640.7" rx="8.3" ry="7.7" fill="#fff" stroke="#000" stroke-width="1.5"/>
<ellipse cx="354.6" cy="641" rx="5.9" ry="4.6" fill="#fff" stroke="#000" stroke-width="1.4"/>
<path d="M350.2,634.6 Q350.5,629.5 354.8,629.3 Q359.2,629.5 359.4,634.6" fill="#fff" stroke="#000" stroke-width="1.2"/>
<path d="M352.8,631.5 V633.5 M356.6,631.5 V633.5" stroke="#000" stroke-width="0.9"/>
<rect x="353" y="617.5" width="4.2" height="3.2" fill="#000"/>
<rect x="-2.4" y="-2.4" width="4.8" height="4.8" fill="#000" transform="translate(286.8,619.3) rotate(-40)"/>
<rect x="-2.4" y="-2.4" width="4.8" height="4.8" fill="#000" transform="translate(304.5,615) rotate(8)"/>
<rect x="-2.4" y="-2.4" width="4.8" height="4.8" fill="#000" transform="translate(257.9,656.3) rotate(-65)"/>
<rect x="-2.4" y="-2.4" width="4.8" height="4.8" fill="#000" transform="translate(347.5,634.5) rotate(40)"/>
<line x1="356.6" y1="648.4" x2="359.5" y2="665.7" stroke="#000" stroke-width="1.1"/>
<circle cx="361.9" cy="679.6" r="13.9" fill="#fff" stroke="#000" stroke-width="1.3"/>
<rect x="352.8" y="673.1" width="2.8" height="11.8" rx="1" fill="#fff" stroke="#000" stroke-width="1.5"/>
<rect x="361.5" y="670.8" width="3" height="17.1" fill="#000"/>
<path d="M364.5,670.8 H369.5 Q371.6,679.3 369.5,687.9 H364.5" fill="#fff" stroke="#000" stroke-width="1.2"/>
<path d="M367.2,671.2 Q368.6,679.3 367.2,687.5" fill="none" stroke="#000" stroke-width="1"/>
<text x="223" y="639.9" font-family="&quot;Liberation Serif&quot;, serif" font-size="12.5" fill="#111" textLength="9.7" lengthAdjust="spacingAndGlyphs">2)</text>
<text x="250.9" y="613.1" font-family="&quot;Liberation Serif&quot;, serif" font-size="12.5" fill="#111" textLength="10.2" lengthAdjust="spacingAndGlyphs">3)</text>
<text x="311" y="586.8" font-family="&quot;Liberation Serif&quot;, serif" font-size="12.5" fill="#111" textLength="10.1" lengthAdjust="spacingAndGlyphs">4)</text>
<text x="318.3" y="663.8" font-family="&quot;Liberation Serif&quot;, serif" font-size="12.5" fill="#111" textLength="10" lengthAdjust="spacingAndGlyphs">5)</text>
<text x="386.7" y="619.7" font-family="&quot;Liberation Serif&quot;, serif" font-size="12.5" fill="#111" textLength="10" lengthAdjust="spacingAndGlyphs">6)</text>
<text x="457.4" y="651.5" font-family="&quot;Liberation Serif&quot;, serif" font-size="12.5" fill="#111" textLength="15.5" lengthAdjust="spacingAndGlyphs">13)</text>
<text x="460.9" y="673.5" font-family="&quot;Liberation Serif&quot;, serif" font-size="12.5" fill="#111" textLength="13.6" lengthAdjust="spacingAndGlyphs">12)</text>
<text x="494.1" y="707.8" font-family="&quot;Liberation Serif&quot;, serif" font-size="12.5" fill="#111" textLength="15.4" lengthAdjust="spacingAndGlyphs">10)</text>
<text x="526.8" y="738.2" font-family="&quot;Liberation Serif&quot;, serif" font-size="12.5" fill="#111" textLength="15.3" lengthAdjust="spacingAndGlyphs">11)</text>
<g transform="translate(242.3,642.9) rotate(28)"><path d="M-2.62,-3.13 A7.5,3.3 0 1 0 3.75,-2.8" fill="none" stroke="#000" stroke-width="1.1"/><path d="M3.25,-4.6 L5.95,-2.5 L2.95,-1.2 Z" fill="#000"/></g>
<line x1="239.4" y1="649.8" x2="243.6" y2="642.5" stroke="#000" stroke-width="1"/><circle cx="239.4" cy="649.8" r="1.1" fill="#000"/>
<line x1="246" y1="645" x2="257.3" y2="652" stroke="#000" stroke-width="1"/>
<g transform="translate(269.7,610.2) rotate(42)"><path d="M-2.62,-3.13 A7.5,3.3 0 1 0 3.75,-2.8" fill="none" stroke="#000" stroke-width="1.1"/><path d="M3.25,-4.6 L5.95,-2.5 L2.95,-1.2 Z" fill="#000"/></g>
<line x1="274" y1="604.8" x2="270" y2="611" stroke="#000" stroke-width="1"/><circle cx="274" cy="604.8" r="1.1" fill="#000"/>
<line x1="273.5" y1="612.9" x2="279.8" y2="622" stroke="#000" stroke-width="1"/>
<g transform="translate(312,597.3) rotate(-72)"><path d="M-2.62,-2.66 A7.5,2.8 0 1 0 3.75,-2.38" fill="none" stroke="#000" stroke-width="1.1"/><path d="M3.25,-4.18 L5.95,-2.08 L2.95,-0.78 Z" fill="#000"/></g>
<line x1="304.5" y1="595.7" x2="311" y2="597.5" stroke="#000" stroke-width="1"/><circle cx="304.5" cy="595.7" r="1.1" fill="#000"/>
<line x1="309.3" y1="604.5" x2="309.3" y2="613" stroke="#000" stroke-width="1"/>
<g transform="translate(333.6,641.9) rotate(-62)"><path d="M-2.52,-2.75 A7.2,2.9 0 1 0 3.6,-2.46" fill="none" stroke="#000" stroke-width="1.1"/><path d="M3.1,-4.26 L5.8,-2.17 L2.8,-0.86 Z" fill="#000"/></g>
<line x1="338.9" y1="647.8" x2="333.5" y2="643" stroke="#000" stroke-width="1"/><circle cx="338.9" cy="647.8" r="1.1" fill="#000"/>
<line x1="334.8" y1="640.7" x2="340" y2="630.7" stroke="#000" stroke-width="1"/>
<g transform="translate(376,615.4) rotate(180)"><path d="M-2.45,-2.56 A7,2.7 0 1 0 3.5,-2.29" fill="none" stroke="#000" stroke-width="1.1"/><path d="M3,-4.09 L5.7,-1.99 L2.7,-0.69 Z" fill="#000"/></g>
<line x1="359" y1="615.4" x2="368.8" y2="615.4" stroke="#000" stroke-width="1"/>
<line x1="376.3" y1="614" x2="376.3" y2="622" stroke="#000" stroke-width="1"/><path d="M374.6,621 L376.3,624 L378,621 Z" fill="#000"/>
<g transform="translate(449,652) rotate(-28)"><path d="M-2.52,-2.85 A7.2,3 0 1 0 3.6,-2.55" fill="none" stroke="#000" stroke-width="1.1"/><path d="M3.1,-4.35 L5.8,-2.25 L2.8,-0.95 Z" fill="#000"/></g>
<line x1="451" y1="657.8" x2="447.5" y2="650.6" stroke="#000" stroke-width="1"/><circle cx="451" cy="657.8" r="1.1" fill="#000"/>
<line x1="428.8" y1="676" x2="440" y2="656" stroke="#000" stroke-width="1"/>
<g transform="translate(455,674) rotate(-37)"><path d="M-1.2,-7.5 L1.2,-7.5 L1.2,1 L2.5,2.5 L0,8 L-2.5,2.5 L-1.2,1 Z" fill="#fff" stroke="#000" stroke-width="1"/><line x1="0" y1="-7" x2="0" y2="1" stroke="#000" stroke-width="0.6"/></g>
<line x1="446.2" y1="678.8" x2="452.4" y2="675" stroke="#000" stroke-width="1" stroke-dasharray="2.5,1"/>
<g transform="translate(484,712.5) rotate(-30)"><path d="M-2.45,-2.85 A7,3 0 1 0 3.5,-2.55" fill="none" stroke="#000" stroke-width="1.1"/><path d="M3,-4.35 L5.7,-2.25 L2.7,-0.95 Z" fill="#000"/></g>
<line x1="478.8" y1="707.3" x2="484.4" y2="714.8" stroke="#000" stroke-width="1"/><circle cx="478.8" cy="707.3" r="1.1" fill="#000"/>
<line x1="471.2" y1="722.6" x2="477.6" y2="718.1" stroke="#000" stroke-width="1"/>
<g transform="translate(520.2,737.8) rotate(-37)"><path d="M-1.3,8.5 L1.3,8.5 L1.3,-1 L2.7,-2.5 L0,-9.5 L-2.7,-2.5 L-1.3,-1 Z" fill="#fff" stroke="#000" stroke-width="1"/><line x1="0" y1="8" x2="0" y2="-1" stroke="#000" stroke-width="0.6"/></g>
<line x1="511.8" y1="747.8" x2="520" y2="741" stroke="#000" stroke-width="1"/>
<g transform="translate(425.9,679.3) rotate(-37.3)" stroke="#000" fill="#fff">
<rect x="-2.6" y="-2.2" width="5.2" height="4.4" stroke-width="1.1"/>
<path d="M-1.2,2.2 V8 M1.2,2.2 V8" stroke-width="0.9"/>
<path d="M-14.6,11.2 Q0,8.6 14.6,11.2 Q3,17 -14.6,11.2 Z" stroke-width="1.1"/>
<circle cx="-7" cy="12.3" r="0.8" fill="#000" stroke="none"/><circle cx="-1" cy="12.6" r="0.8" fill="#000" stroke="none"/><circle cx="5" cy="12.3" r="0.8" fill="#000" stroke="none"/>
<rect x="-3" y="14.6" width="6" height="6.5" fill="#000" stroke="none"/>
<ellipse cx="0" cy="21.6" rx="14.6" ry="2.3" stroke-width="1.2"/>
<path d="M-14.2,22.3 Q0,25 14.2,22.3" fill="none" stroke-width="1.8"/>
<path d="M-7.3,23.2 V42.5 Q-7.3,43.4 -6.3,43.4 H6.3 Q7.3,43.4 7.3,42.5 V23.2" stroke-width="1.2"/>
<rect x="-4.6" y="49.3" width="9.2" height="8.5" rx="2" fill="#000" stroke="none"/>
<circle cx="0" cy="66" r="8.3" stroke-width="1.3"/>
<path d="M-3.5,58 L-3,61 L-4.3,67 L-1.8,71 L2,71 L4.3,67 L3,61 L3.5,58" fill="none" stroke-width="1"/>
</g>
<circle cx="489.5" cy="764.8" r="28" fill="#fff" stroke="#000" stroke-width="1.3"/>
<path d="M463.8,753 Q472,744 484.8,737.6 Q478,747 463.8,753 Z" fill="#fff" stroke="#000" stroke-width="1.1"/>
</svg></body></html>
